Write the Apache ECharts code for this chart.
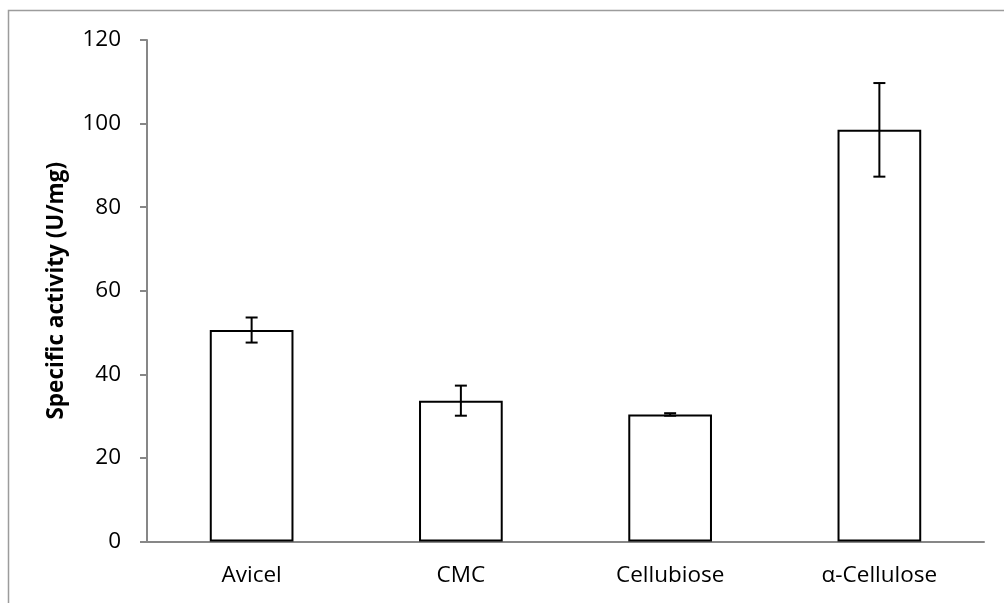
<!DOCTYPE html>
<html>
<head>
<meta charset="utf-8">
<script src="https://cdn.jsdelivr.net/npm/echarts@6/dist/echarts.min.js"></script>
<style>
  html, body { margin: 0; padding: 0; background: #fff; }
  #chart { width: 1004px; height: 603px; }
</style>
</head>
<body>
<div id="chart"></div>
<script>
// Substrate specificity of the enzyme
const substrates = ['Avicel', 'CMC', 'Cellubiose', 'α-Cellulose'];
const activity = [50.6, 33.7, 30.4, 98.5];
const activityError = [3.0, 3.6, 0.3, 11.2];
const yTicks = { min: 0, max: 120, interval: 20 };
const yTitle = 'Specific activity (U/mg)';

const FONT = '"Open Sans", "Liberation Sans", sans-serif';
const AXIS_GRAY = '#878787';

const chart = echarts.init(document.getElementById('chart'), null, { renderer: 'canvas' });

// Whisker data: [category index, mean, sd]
const errorData = activity.map((v, i) => [i, v, activityError[i]]);

chart.setOption({
  animation: false,
  backgroundColor: '#fff',
  graphic: [{
    type: 'rect',
    silent: true,
    z: -1,
    shape: { x: 8.5, y: 10.5, width: 1100, height: 700 },
    style: { fill: 'none', stroke: '#9c9c9c', lineWidth: 1.5 }
  }],
  grid: { left: 147, right: 20, top: 40, bottom: 61.5, containLabel: false },
  xAxis: {
    type: 'category',
    data: substrates,
    axisLine: { lineStyle: { color: AXIS_GRAY, width: 2 } },
    axisTick: { show: false },
    axisLabel: { color: '#000', fontFamily: FONT, fontSize: 22.5, margin: 23 }
  },
  yAxis: {
    type: 'value',
    min: yTicks.min,
    max: yTicks.max,
    interval: yTicks.interval,
    name: yTitle,
    nameLocation: 'middle',
    nameGap: 79,
    nameRotate: 90,
    nameTextStyle: { color: '#000', fontFamily: FONT, fontSize: 22.5, fontWeight: 'bold' },
    splitLine: { show: false },
    axisLine: { show: true, lineStyle: { color: AXIS_GRAY, width: 2 } },
    axisTick: { show: true, inside: false, length: 7, lineStyle: { color: AXIS_GRAY, width: 2 } },
    axisLabel: { color: '#000', fontFamily: FONT, fontSize: 22.5, margin: 26 }
  },
  series: [
    {
      type: 'bar',
      data: activity,
      barWidth: '40%',
      itemStyle: { color: '#fff', borderColor: '#000', borderWidth: 2 }
    },
    {
      type: 'custom',
      data: errorData,
      z: 5,
      renderItem: function (params, api) {
        const x = api.value(0);
        const mean = api.value(1);
        const sd = api.value(2);
        const hi = api.coord([x, mean + sd]);
        const lo = api.coord([x, mean - sd]);
        const half = 6;
        const style = { stroke: '#000', lineWidth: 2 };
        return {
          type: 'group',
          children: [
            { type: 'line', shape: { x1: hi[0], y1: hi[1], x2: lo[0], y2: lo[1] }, style: style },
            { type: 'line', shape: { x1: hi[0] - half, y1: hi[1], x2: hi[0] + half, y2: hi[1] }, style: style },
            { type: 'line', shape: { x1: lo[0] - half, y1: lo[1], x2: lo[0] + half, y2: lo[1] }, style: style }
          ]
        };
      }
    }
  ]
});
</script>
</body>
</html>
